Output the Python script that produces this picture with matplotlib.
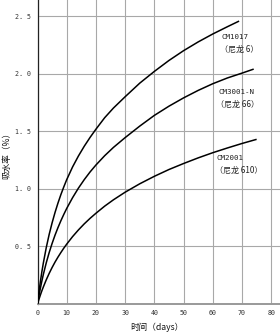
import matplotlib
matplotlib.use("Agg")
import matplotlib.pyplot as plt

# Data (values in %, days)
days_cm1017 = [0, 0.5, 1, 1.5, 2, 3, 4, 5, 6, 7, 8, 9, 10, 12, 14, 16, 18, 20, 23, 26, 30, 35, 40, 45, 50, 55, 60, 65, 69]
vals_cm1017 = [0, 0.105, 0.197, 0.281, 0.356, 0.490, 0.605, 0.705, 0.795, 0.876, 0.950, 1.017, 1.080, 1.190, 1.285,
               1.370, 1.447, 1.518, 1.618, 1.702, 1.800, 1.918, 2.020, 2.115, 2.200, 2.276, 2.345, 2.408, 2.457]

days_cm3001 = [0, 0.5, 1, 1.5, 2, 3, 4, 5, 6, 7, 8, 9, 10, 12, 14, 16, 18, 20, 23, 26, 30, 35, 40, 45, 50, 55, 60, 65, 70, 74]
vals_cm3001 = [0, 0.073, 0.139, 0.200, 0.257, 0.358, 0.447, 0.526, 0.598, 0.663, 0.723, 0.778, 0.830, 0.923, 1.006,
               1.080, 1.147, 1.207, 1.288, 1.360, 1.445, 1.545, 1.638, 1.718, 1.790, 1.855, 1.913, 1.963, 2.005, 2.040]

days_cm2001 = [0, 0.5, 1, 1.5, 2, 3, 4, 5, 6, 7, 8, 9, 10, 12, 14, 16, 18, 20, 23, 26, 30, 35, 40, 45, 50, 55, 60, 65, 70, 75]
vals_cm2001 = [0, 0.041, 0.079, 0.115, 0.148, 0.210, 0.266, 0.317, 0.364, 0.407, 0.447, 0.485, 0.520, 0.585, 0.643,
               0.696, 0.744, 0.788, 0.850, 0.905, 0.971, 1.044, 1.109, 1.168, 1.220, 1.269, 1.314, 1.355, 1.394, 1.430]

series_labels = [("CM1017", "（尼龙 6）"), ("CM3001-N", "（尼龙 66）"), ("CM2001", "（尼龙 610）")]
label_pos = [(63.0, 2.32), (61.8, 1.84), (61.2, 1.27)]

xticks = [0, 10, 20, 30, 40, 50, 60, 70, 80]
yticks = [0.5, 1.0, 1.5, 2.0, 2.5]
ytick_labels = ["0. 5", "1. 0", "1. 5", "2. 0", "2. 5"]

mono = ["DejaVu Sans Mono", "Noto Sans CJK SC"]
cjk = ["Noto Sans CJK SC", "DejaVu Sans"]

fig = plt.figure(figsize=(2.8, 3.34), dpi=100)
ax = fig.add_axes([37.5 / 280, 30 / 334, 1 - 37.5 / 280, 304 / 334])

for d, v in [(days_cm1017, vals_cm1017), (days_cm3001, vals_cm3001), (days_cm2001, vals_cm2001)]:
    ax.plot(d, v, color="black", lw=1.1, solid_capstyle="butt", solid_joinstyle="round", zorder=3)

ax.set_xlim(0, 83)
ax.set_ylim(0, 2.64)
ax.set_xticks(xticks)
ax.set_xticklabels([str(t) for t in xticks], family=mono, fontsize=4.8, color="#333333")
ax.set_yticks(yticks)
ax.set_yticklabels(ytick_labels, family=mono, fontsize=4.8, color="#333333")
ax.tick_params(length=0, pad=4.5)
ax.grid(True, color="#a8a8a8", lw=0.8)
ax.set_axisbelow(True)

for s in ["top", "right"]:
    ax.spines[s].set_visible(False)
ax.spines["left"].set_color("#222222")
ax.spines["left"].set_linewidth(0.9)
ax.spines["bottom"].set_color("#999999")
ax.spines["bottom"].set_linewidth(1.4)

for (name, sub), (x, y) in zip(series_labels, label_pos):
    ax.text(x, y, name, family=mono, fontsize=5.4, color="#222222", ha="left", va="center")
    ax.text(x - 0.6, y - 0.11, sub, family=cjk, fontsize=5.8, color="#222222", ha="left", va="center")

fig.text(157 / 280, 1 - 327 / 334, "时间（days）", family=cjk, fontsize=6.2, color="#111111",
         ha="center", va="center")
fig.text(7 / 280, 1 - 153 / 334, "吸水率（%）", family=cjk, fontsize=6.2, color="#111111",
         ha="center", va="center", rotation=90)

fig.savefig("out.png", dpi=100)
